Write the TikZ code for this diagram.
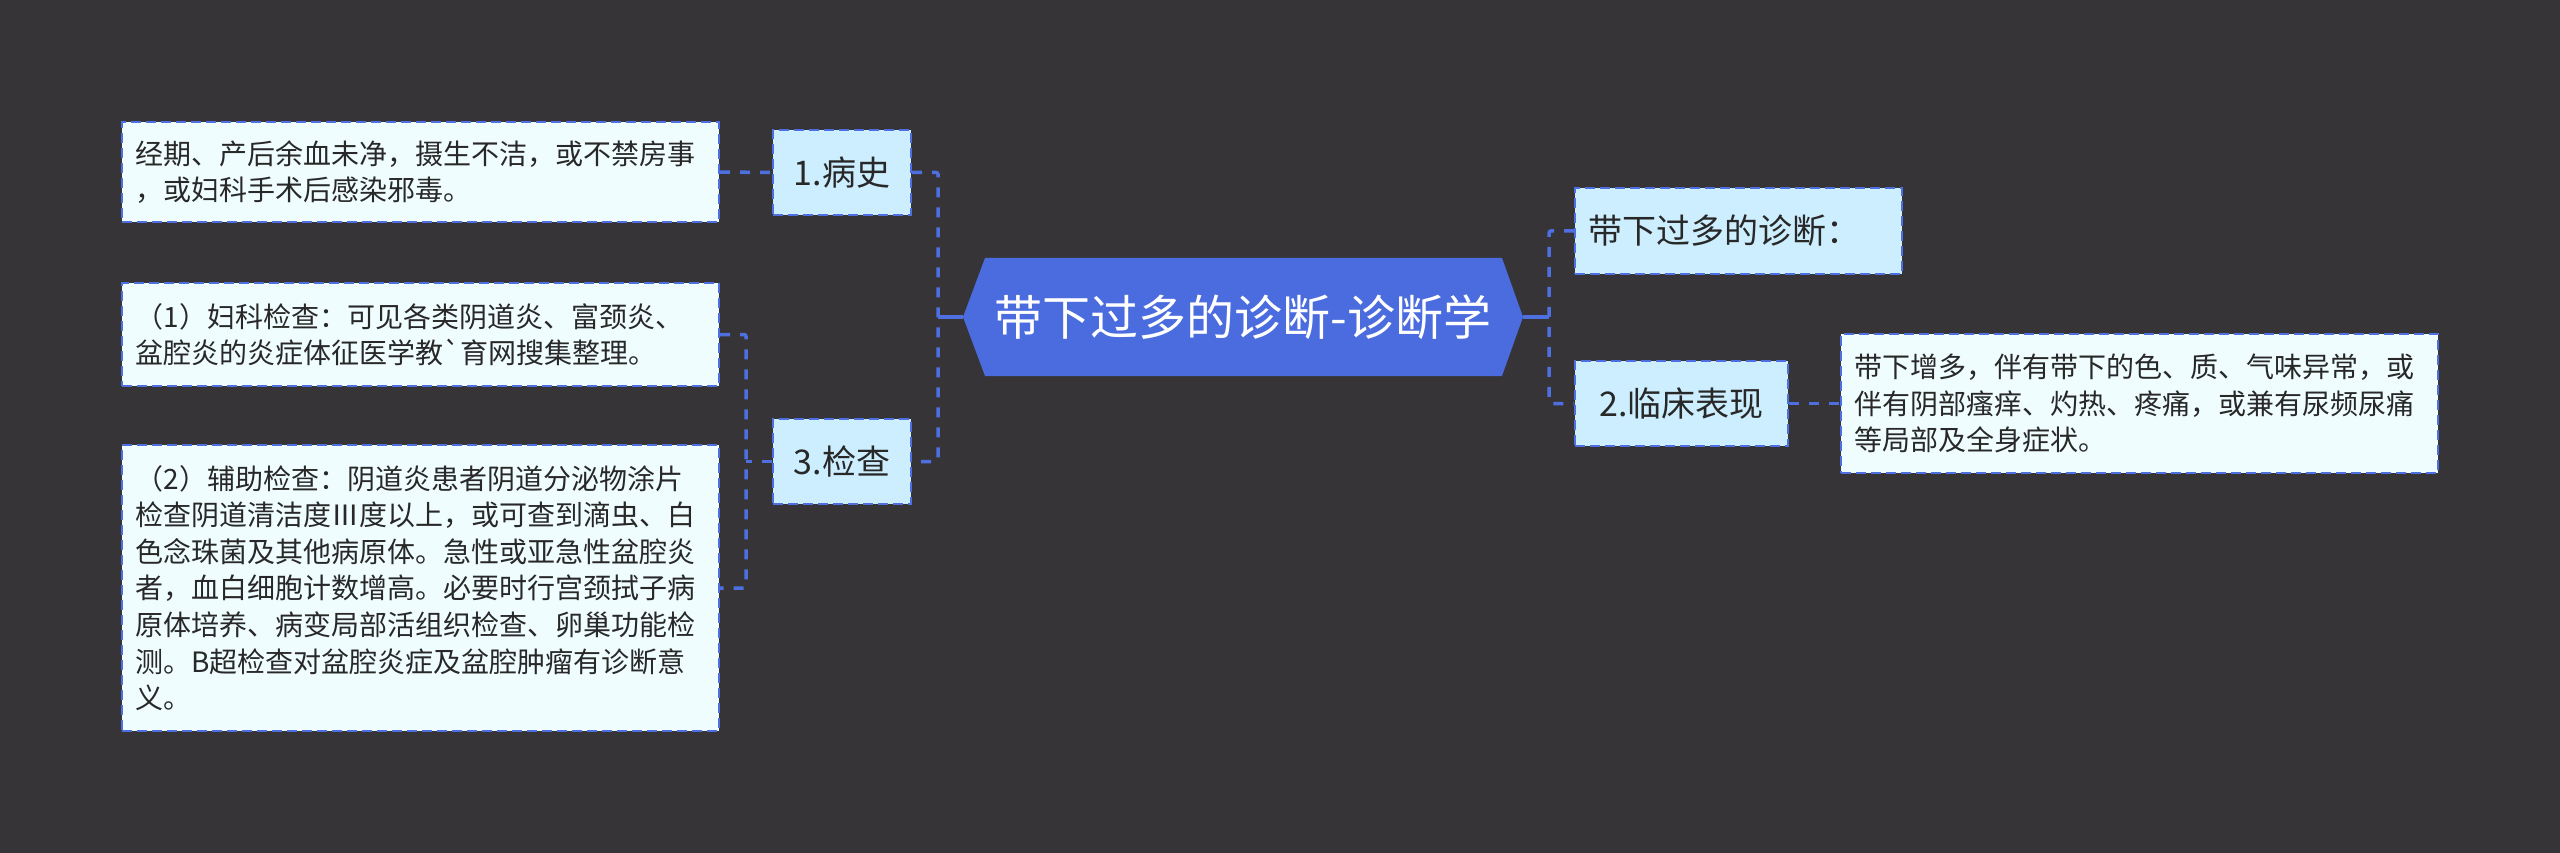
\documentclass[tikz,border=0pt]{standalone}
\usepackage{fontspec}
\setmainfont{Noto Sans CJK SC}[Ligatures=TeXOff]
\definecolor{bgc}{RGB}{54,52,55}
\definecolor{rootc}{RGB}{74,108,222}
\definecolor{linec}{RGB}{77,111,224}
\definecolor{lvone}{RGB}{204,238,255}
\definecolor{leafc}{RGB}{240,253,255}
\definecolor{txt}{RGB}{40,40,40}
\tikzset{
  lvbox/.style={draw=linec, line width=2pt, dash pattern=on 10pt off 5pt, fill=lvone,
    text=txt, inner sep=0pt, font=\fontsize{34}{40}\selectfont, anchor=center},
  leafbox/.style={draw=linec, line width=2pt, dash pattern=on 10pt off 5pt, fill=leafc,
    text=txt, inner ysep=0pt, inner xsep=13.5pt, text width=570pt, align=left,
    font=\fontsize{28}{36.6}\selectfont, anchor=center},
  conn/.style={draw=linec, line width=3.5pt, dash pattern=on 10pt off 10pt, rounded corners=2pt},
  rootline/.style={draw=linec, line width=3.5pt}
}
\begin{document}
\begin{tikzpicture}[x=1pt,y=-1pt]
\fill[bgc] (0,0) rectangle (2560,853);
\useasboundingbox (0,0) rectangle (2560,853);
% root
\fill[rootc] (963,317) -- (985,258) -- (1502,258) -- (1523,317) -- (1502,376) -- (985,376) -- cycle;
\node[text=white, font=\fontsize{48}{56}\selectfont] (root) at (1243,317) {带下过多的诊断-诊断学};
\coordinate (rootL) at (963,317);
\coordinate (rootR) at (1523,317);
\coordinate (jL) at (938,317);
\coordinate (jR) at (1549,317);
% level one
\node[lvbox, minimum width=138pt, minimum height=85pt] (n1) at (842,172.5) {1.病史};
\node[lvbox, minimum width=138pt, minimum height=85pt] (n3) at (842,461.5) {3.检查};
\node[lvbox, minimum width=327pt, minimum height=86pt, align=left, text width=301pt] (n4) at (1738.5,231) {带下过多的诊断：};
\node[lvbox, minimum width=213pt, minimum height=85pt] (n2) at (1681.5,403.5) {2.临床表现};
% leaves
\node[leafbox, minimum height=100pt] (A) at (420.5,172) {经期、产后余血未净，摄生不洁，或不禁房事\\，或妇科手术后感染邪毒。};
\node[leafbox, minimum height=103pt] (B) at (420.5,334.5) {（1）妇科检查：可见各类阴道炎、富颈炎、\\盆腔炎的炎症体征医学教`育网搜集整理。};
\node[leafbox, minimum height=286pt] (C) at (420.5,588) {（2）辅助检查：阴道炎患者阴道分泌物涂片\\检查阴道清洁度Ⅲ度以上，或可查到滴虫、白\\色念珠菌及其他病原体。急性或亚急性盆腔炎\\者，血白细胞计数增高。必要时行宫颈拭子病\\原体培养、病变局部活组织检查、卵巢功能检\\测。B超检查对盆腔炎症及盆腔肿瘤有诊断意\\义。};
\node[leafbox, minimum height=139pt] (D) at (2139.5,403.5) {带下增多，伴有带下的色、质、气味异常，或\\伴有阴部瘙痒、灼热、疼痛，或兼有尿频尿痛\\等局部及全身症状。};
\coordinate (jC) at (746,461.5);
% connectors
\draw[rootline] (rootL) -- (jL);
\draw[rootline] (rootR) -- (jR);
\draw[conn] (n1.east) -| (jL) |- (n3.east);
\draw[conn] (n4.west) -| (jR) |- (n2.west);
\draw[conn] (A.east) -- (n1.west);
\draw[conn] (n3.west) -- (jC);
\draw[conn] (B.east) -| (jC) |- (C.east);
\draw[conn] (n2.east) -- (D.west);
\end{tikzpicture}
\end{document}
